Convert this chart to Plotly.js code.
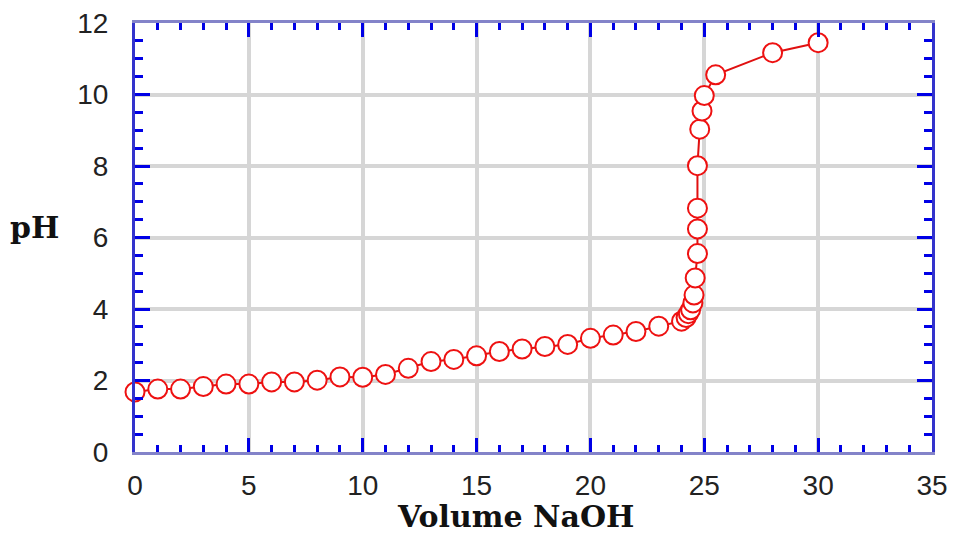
<!DOCTYPE html>
<html>
<head>
<meta charset="utf-8">
<script src="https://cdn.plot.ly/plotly-3.0.1.min.js"></script>
<style>html,body{margin:0;padding:0;background:#fff;}#chart{width:954px;height:537px;}</style>
</head>
<body>
<div id="chart"></div>
<script>
// Titration data: volume of NaOH added (mL) and measured pH
const volumeNaOH = [0, 1, 2, 3, 4, 5, 6, 7, 8, 9, 10, 11, 12, 13, 14, 15, 16, 17, 18, 19, 20, 21, 22, 23,
  24.0, 24.2, 24.3, 24.4, 24.5, 24.55, 24.6, 24.7, 24.7, 24.7, 24.7, 24.8, 24.9, 25.0, 25.5, 28, 30];
const pH = [1.68, 1.76, 1.76, 1.83, 1.90, 1.90, 1.96, 1.96, 2.01, 2.10, 2.09, 2.17, 2.34, 2.53, 2.59, 2.69, 2.81, 2.88, 2.95, 3.01, 3.18, 3.27, 3.37, 3.52,
  3.66, 3.76, 3.87, 3.98, 4.17, 4.39, 4.87, 5.55, 6.24, 6.82, 8.01, 9.03, 9.54, 9.97, 10.55, 11.17, 11.45];
const xTickVals = [0, 5, 10, 15, 20, 25, 30, 35];
const yTickVals = [0, 2, 4, 6, 8, 10, 12];
const xTitle = "Volume NaOH";
const yTitle = "pH";

const trace = {
  x: volumeNaOH, y: pH, type: 'scatter', mode: 'lines+markers',
  line: {color: '#e01010', width: 2},
  marker: {symbol: 'circle', size: 19, color: '#ffffff', line: {color: '#ee1111', width: 2}},
  cliponaxis: false, hoverinfo: 'x+y'
};

const tickFont = {family: 'Liberation Sans, Arial, sans-serif', size: 28, color: '#222'};
const titleFont = {family: 'DejaVu Serif, serif', size: 30, color: '#111', weight: 'bold'};

const layout = {
  width: 954, height: 537,
  margin: {l: 135, r: 22, t: 23, b: 85},
  paper_bgcolor: '#fff', plot_bgcolor: '#fff',
  showlegend: false,
  xaxis: {
    range: [0, 35], tickvals: xTickVals, ticktext: xTickVals.map(String),
    showline: true, linecolor: '#8383c9', linewidth: 3, mirror: 'allticks',
    ticks: 'inside', ticklen: 14, tickwidth: 3, tickcolor: '#0000e6',
    minor: {dtick: 1, ticks: 'inside', ticklen: 7, tickwidth: 3, tickcolor: '#0000e6', showgrid: false},
    showgrid: true, gridcolor: '#d6d6d6', gridwidth: 4,
    zeroline: false, tickfont: tickFont, ticklabelstandoff: 6
  },
  yaxis: {
    range: [0, 12], tickvals: yTickVals, ticktext: yTickVals.map(String),
    showline: true, linecolor: '#3333cc', linewidth: 3, mirror: 'allticks',
    ticks: 'inside', ticklen: 15, tickwidth: 3, tickcolor: '#0000e6',
    minor: {dtick: 0.5, ticks: 'inside', ticklen: 8, tickwidth: 3, tickcolor: '#0000e6', showgrid: false},
    showgrid: true, gridcolor: '#d6d6d6', gridwidth: 4,
    zeroline: false, tickfont: tickFont, ticklabelstandoff: 18
  },
  annotations: [
    {text: xTitle, xref: 'paper', yref: 'paper', x: 0.477, y: -0.1958, xanchor: 'center', yanchor: 'bottom',
     showarrow: false, font: titleFont},
    {text: yTitle, xref: 'paper', yref: 'paper', x: -0.159, y: 0.524, xanchor: 'left', yanchor: 'middle',
     showarrow: false, font: titleFont}
  ]
};

Plotly.newPlot('chart', [trace], layout, {displayModeBar: false, staticPlot: true});
</script>
</body>
</html>
